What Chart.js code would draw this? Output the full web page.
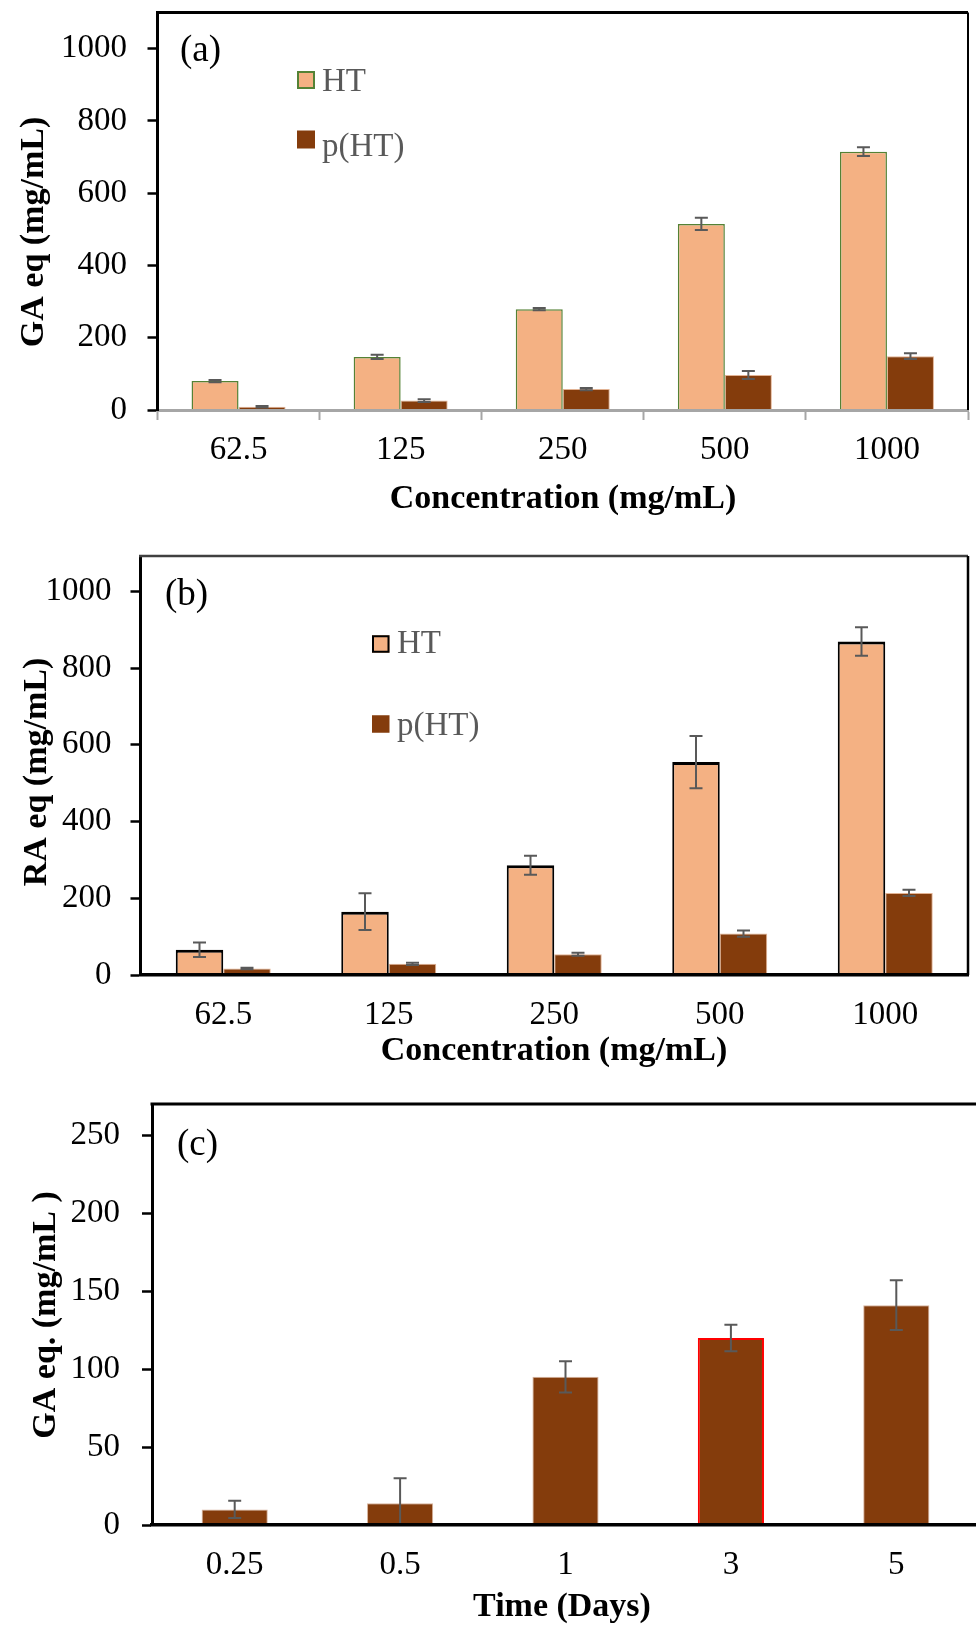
<!DOCTYPE html>
<html>
<head>
<meta charset="utf-8">
<script src="https://cdn.jsdelivr.net/npm/chart.js@4.4.1/dist/chart.umd.min.js"></script>
<style>
  html, body { margin: 0; padding: 0; background: #fff; width: 976px; height: 1626px; overflow: hidden; position: relative; }
  canvas { position: absolute; left: 0; }
</style>
</head>
<body>
<canvas id="chartA" width="976" height="530" style="top:0"></canvas>
<canvas id="chartB" width="976" height="540" style="top:530px"></canvas>
<canvas id="chartC" width="990" height="556" style="top:1070px"></canvas>
<script>
// concentration series (a) GA eq, (b) RA eq
const concentrations = ['62.5', '125', '250', '500', '1000'];
const gaHT = [80, 147, 279, 515, 715];
const gaHTErr = [3, 6, 3, 17, 12];
const gaPHT = [9, 26, 58, 97, 149];
const gaPHTErr = [2, 4, 3, 11, 8];
const raHT = [66, 165, 286, 555, 869];
const raHTErr = [19, 48, 25, 68, 37];
const raPHT = [17, 29, 54, 108, 214];
const raPHTErr = [2, 3, 4, 8, 8];
const concTicks = [0, 200, 400, 600, 800, 1000];

// release over time (c)
const days = ['0.25', '0.5', '1', '3', '5'];
const gaTime = [10, 14, 95, 120, 141];
const gaTimeErr = [5.5, 16, 10, 8.5, 16];
const timeTicks = [0, 50, 100, 150, 200, 250];

const SERIF = '"Liberation Serif", "Times New Roman", serif';
const PEACH = '#F4B183';
const BROWN = '#843C0C';
const tickFont = { family: SERIF, size: 33 };

const panelDecor = {
    id: 'panelDecor',
    afterDatasetsDraw(chart) {
        const { ctx, chartArea: a, scales: { y } } = chart;
        ctx.save();
        ctx.beginPath();
        ctx.rect(a.left, a.top, a.right - a.left, a.bottom - a.top);
        ctx.clip();
        ctx.strokeStyle = '#595959';
        ctx.lineWidth = 2;
        chart.data.datasets.forEach((ds, i) => {
            if (!ds.errors) return;
            chart.getDatasetMeta(i).data.forEach((bar, j) => {
                const v = ds.data[j], e = ds.errors[j];
                const hi = y.getPixelForValue(v + e);
                const lo = y.getPixelForValue(v - e);
                const cap = 6.5;
                ctx.beginPath();
                ctx.moveTo(bar.x, hi); ctx.lineTo(bar.x, lo);
                ctx.moveTo(bar.x - cap, hi); ctx.lineTo(bar.x + cap, hi);
                ctx.moveTo(bar.x - cap, lo); ctx.lineTo(bar.x + cap, lo);
                ctx.stroke();
            });
        });
        ctx.restore();
    },
    afterDraw(chart, args, o) {
        const { ctx, chartArea: a } = chart;
        ctx.save();
        // top and right frame
        ctx.strokeStyle = o.topColor;
        ctx.lineWidth = o.topWidth;
        ctx.beginPath();
        ctx.moveTo(a.left - 1.5, a.top); ctx.lineTo(a.right, a.top);
        ctx.stroke();
        ctx.strokeStyle = '#000';
        ctx.lineWidth = o.rightWidth;
        ctx.beginPath();
        ctx.moveTo(a.right, a.top); ctx.lineTo(a.right, a.bottom);
        ctx.stroke();

        // panel letter
        ctx.fillStyle = '#000';
        ctx.textBaseline = 'middle';
        ctx.textAlign = 'left';
        ctx.font = '37px ' + SERIF;
        ctx.fillText(o.panel, o.panelPos[0], o.panelPos[1]);

        // axis titles
        ctx.font = 'bold 34px ' + SERIF;
        ctx.textAlign = 'center';
        ctx.fillText(o.xTitle, o.xTitlePos[0], o.xTitlePos[1]);
        ctx.save();
        ctx.translate(o.yTitlePos[0], o.yTitlePos[1]);
        ctx.rotate(-Math.PI / 2);
        ctx.fillText(o.yTitle, 0, 0);
        ctx.restore();

        // legend
        if (o.legend) {
            const lg = o.legend;
            ctx.textAlign = 'left';
            ctx.font = '33px ' + SERIF;
            chart.data.datasets.forEach((ds, i) => {
                const cy = lg.ys[i];
                ctx.fillStyle = ds.backgroundColor;
                ctx.fillRect(lg.x, cy - lg.size / 2, lg.size, lg.size);
                if (ds.legendBorder) {
                    ctx.strokeStyle = ds.legendBorder;
                    ctx.lineWidth = 2;
                    ctx.strokeRect(lg.x + 1, cy - lg.size / 2 + 1, lg.size - 2, lg.size - 2);
                }
                ctx.fillStyle = '#595959';
                ctx.fillText(ds.label, lg.textX, lg.textYs[i]);
            });
        }
        ctx.restore();
    }
};

function yScale(max, ticks, width, pad) {
    return {
        min: 0,
        max: max,
        afterBuildTicks: s => { s.ticks = ticks.map(v => ({ value: v })); },
        afterFit: s => { s.width = width; s.paddingTop = 0; s.paddingBottom = 0; },
        border: { color: '#000', width: 3, z: 1 },
        grid: { drawOnChartArea: false, tickLength: 10, tickColor: '#000', tickWidth: 2.5 },
        ticks: { padding: pad, color: '#000', font: tickFont, callback: v => String(v) }
    };
}

function xScale(height, pad, border, grid) {
    return {
        afterFit: s => { s.height = height; s.paddingLeft = 0; s.paddingRight = 0; },
        border: border,
        grid: grid,
        ticks: { padding: pad, color: '#000', font: tickFont, maxRotation: 0, autoSkip: false }
    };
}

function makeChart(id, data, scales, padding, decor) {
    return new Chart(document.getElementById(id), {
        type: 'bar',
        data: data,
        options: {
            responsive: false,
            animation: false,
            devicePixelRatio: 1,
            layout: { padding: padding },
            plugins: { legend: { display: false }, tooltip: { enabled: false }, panelDecor: decor },
            scales: scales
        },
        plugins: [panelDecor]
    });
}

// (a) GA equivalents
makeChart('chartA', {
    labels: concentrations,
    datasets: [
        { label: 'HT', data: gaHT, errors: gaHTErr, backgroundColor: PEACH, borderColor: '#548235', borderWidth: 1.5,
          legendBorder: '#548235', categoryPercentage: 0.58, barPercentage: 1 },
        { label: 'p(HT)', data: gaPHT, errors: gaPHTErr, backgroundColor: BROWN, borderColor: '#E2B394', borderWidth: 1,
          categoryPercentage: 0.58, barPercentage: 1 }
    ]
}, {
    x: xScale(120, 11, { color: '#A6A6A6', width: 3, z: 1 },
        { drawOnChartArea: false, tickLength: 10, tickColor: '#A6A6A6', tickWidth: 2, offset: true }),
    y: yScale(1100, concTicks, 157.5, 20.5)
}, { top: 12.5, right: 8, left: 0, bottom: 0 }, {
    panel: '(a)', panelPos: [180, 51],
    xTitle: 'Concentration (mg/mL)', xTitlePos: [563, 499],
    yTitle: 'GA eq (mg/mL)', yTitlePos: [34.5, 232],
    topColor: '#000', topWidth: 3, rightWidth: 2,
    legend: { x: 297, size: 18, ys: [80, 139.5], textX: 322, textYs: [82, 147] }
});

// (b) RA equivalents
makeChart('chartB', {
    labels: concentrations,
    datasets: [
        { label: 'HT', data: raHT, errors: raHTErr, backgroundColor: PEACH, borderColor: '#000',
          borderWidth: { top: 3, left: 2, right: 2, bottom: 0 }, legendBorder: '#000',
          categoryPercentage: 0.574, barPercentage: 1 },
        { label: 'p(HT)', data: raPHT, errors: raPHTErr, backgroundColor: BROWN, borderColor: '#E2B394', borderWidth: 1,
          categoryPercentage: 0.574, barPercentage: 1 }
    ]
}, {
    x: xScale(95, 13, { color: '#000', width: 3.5, z: 1 }, { display: false }),
    y: yScale(1092, concTicks, 140.5, 19)
}, { top: 26, right: 8, left: 0, bottom: 0 }, {
    panel: '(b)', panelPos: [165, 65.5],
    xTitle: 'Concentration (mg/mL)', xTitlePos: [554, 521],
    yTitle: 'RA eq (mg/mL)', yTitlePos: [37.5, 242],
    topColor: '#404040', topWidth: 2.5, rightWidth: 2.5,
    legend: { x: 372, size: 17.5, ys: [114, 194], textX: 397, textYs: [114, 196] }
});

// (c) GA release over time
makeChart('chartC', {
    labels: days,
    datasets: [
        { label: 'p(HT)', data: gaTime, errors: gaTimeErr, backgroundColor: BROWN,
          borderColor: ['#D7B49E', '#D7B49E', '#D7B49E', '#FF0000', '#D7B49E'],
          borderWidth: [1, 1, 1, 2, 1], categoryPercentage: 0.4, barPercentage: 1 }
    ]
}, {
    x: xScale(101, 13, { color: '#000', width: 3.5, z: 1 }, { display: false }),
    y: yScale(270, timeTicks, 152, 22)
}, { top: 34, right: 11, left: 0, bottom: 0 }, {
    panel: '(c)', panelPos: [177, 75],
    xTitle: 'Time (Days)', xTitlePos: [562, 537],
    yTitle: 'GA eq. (mg/mL )', yTitlePos: [46, 245],
    topColor: '#000', topWidth: 3, rightWidth: 2
});
</script>
</body>
</html>
